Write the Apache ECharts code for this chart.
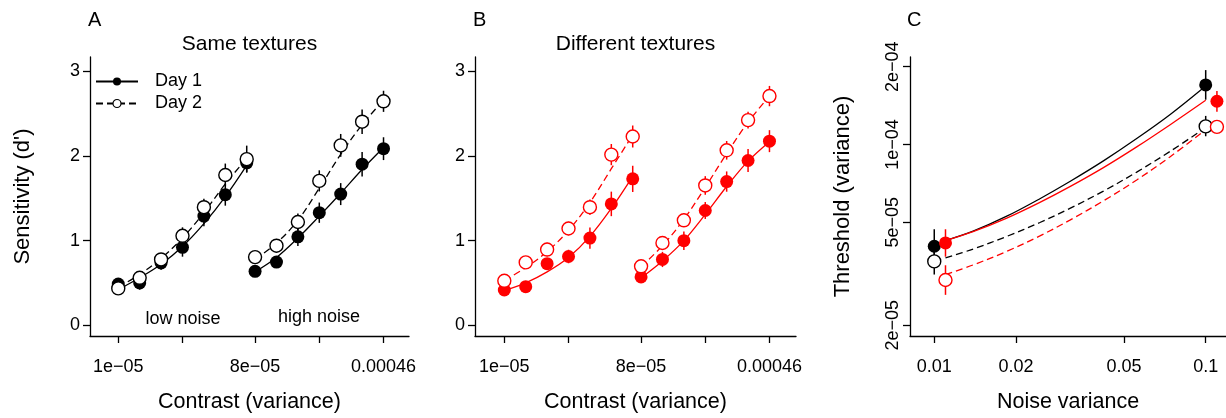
<!DOCTYPE html>
<html>
<head>
<meta charset="utf-8">
<style>
    html, body { margin: 0; padding: 0; background: #fff; }
    #main { width: 1226px; height: 418px; }
</style>
<script src="https://cdn.jsdelivr.net/npm/echarts@6/dist/echarts.min.js"></script>
</head>
<body>
<div id="main"></div>
<script>
// contrast levels as positions on the axis (low noise group, then high noise group)
let lowLevels = [0, 1, 2, 3, 4, 5, 6]
let highLevels = [6.39, 7.39, 8.39, 9.39, 10.39, 11.39, 12.39]
let contrastTicks = [0, 3, 6.39, 9.39, 12.39]
let contrastLabels = ['1e\u221205', '', '8e\u221205', '', '0.00046']
let dTicks = [0, 1, 2, 3]

// A: same textures, d' and error (half length)
let sameDay1Low = [0.486, 0.50, 0.735, 0.92, 1.29, 1.543, 1.92]
let sameDay1LowErr = [0.06, 0.08, 0.08, 0.11, 0.12, 0.13, 0.11]
let sameDay2Low = [0.435, 0.56, 0.777, 1.057, 1.395, 1.776, 1.963]
let sameDay2LowErr = [0.05, 0.06, 0.07, 0.1, 0.1, 0.135, 0.16]
let sameDay1High = [0.637, 0.746, 1.045, 1.33, 1.55, 1.904, 2.087]
let sameDay1HighErr = [0.06, 0.06, 0.11, 0.12, 0.13, 0.145, 0.135]
let sameDay2High = [0.805, 0.94, 1.22, 1.706, 2.126, 2.406, 2.647]
let sameDay2HighErr = [0.05, 0.08, 0.1, 0.125, 0.135, 0.145, 0.125]
let sameFit1Low = [0.42, 0.56, 0.72, 0.93, 1.2, 1.52, 1.89]
let sameFit2Low = [0.45, 0.6, 0.79, 1.03, 1.33, 1.67, 1.97]
let sameFit1High = [0.63, 0.8, 1.03, 1.29, 1.56, 1.84, 2.1]
let sameFit2High = [0.78, 0.97, 1.24, 1.62, 2.02, 2.37, 2.66]

// B: different textures
let diffDay1Low = [0.416, 0.455, 0.727, 0.812, 1.03, 1.434, 1.73]
let diffDay1LowErr = [0.06, 0.06, 0.06, 0.08, 0.125, 0.145, 0.155]
let diffDay2Low = [0.525, 0.742, 0.894, 1.143, 1.395, 2.017, 2.231]
let diffDay2LowErr = [0.05, 0.06, 0.08, 0.08, 0.09, 0.125, 0.13]
let diffDay1High = [0.571, 0.777, 0.999, 1.356, 1.698, 1.947, 2.176]
let diffDay1HighErr = [0.06, 0.09, 0.11, 0.1, 0.12, 0.135, 0.13]
let diffDay2High = [0.696, 0.972, 1.24, 1.652, 2.068, 2.425, 2.709]
let diffDay2HighErr = [0.06, 0.06, 0.08, 0.11, 0.11, 0.1, 0.12]
let diffFit1Low = [0.41, 0.5, 0.63, 0.8, 1.05, 1.38, 1.76]
let diffFit2Low = [0.53, 0.68, 0.87, 1.12, 1.45, 1.85, 2.25]
let diffFit1High = [0.56, 0.76, 1.0, 1.31, 1.64, 1.94, 2.17]
let diffFit2High = [0.69, 0.94, 1.25, 1.63, 2.03, 2.4, 2.71]

// C: thresholds vs noise variance
let noiseBlack = [0.01, 0.1]
let noiseRed = [0.011, 0.11]
let noiseTicks = [0.01, 0.02, 0.05, 0.1]
let thrTicks = [2e-5, 5e-5, 1e-4, 2e-4]
let thrLabels = ['2e\u221205', '5e\u221205', '1e\u221204', '2e\u221204']
let thrSame1 = [4.04e-5, 1.70e-4]
let thrSame1Lo = [3.47e-5, 1.49e-4]
let thrSame1Hi = [4.7e-5, 1.94e-4]
let thrSame2 = [3.53e-5, 1.175e-4]
let thrSame2Lo = [3.14e-5, 1.076e-4]
let thrSame2Hi = [3.84e-5, 1.29e-4]
let thrDiff1 = [4.16e-5, 1.47e-4]
let thrDiff1Lo = [3.68e-5, 1.34e-4]
let thrDiff1Hi = [4.7e-5, 1.61e-4]
let thrDiff2 = [2.99e-5, 1.17e-4]
let thrDiff2Lo = [2.62e-5, 1.12e-4]
let thrDiff2Hi = [3.41e-5, 1.22e-4]
let fitNoise = [0.011, 0.0139, 0.0185, 0.0245, 0.0316, 0.042, 0.0557, 0.074, 0.1]
let fitSame1 = [4.25e-5, 4.62e-5, 5.28e-5, 6.17e-5, 7.19e-5, 8.64e-5, 1.054e-4, 1.306e-4, 1.683e-4]
let fitSame2 = [3.64e-5, 3.94e-5, 4.41e-5, 4.99e-5, 5.66e-5, 6.6e-5, 7.82e-5, 9.41e-5, 1.162e-4]
let fitDiff1 = [4.25e-5, 4.6e-5, 5.19e-5, 5.97e-5, 6.87e-5, 8.14e-5, 9.79e-5, 1.193e-4, 1.483e-4]
let fitDiff2 = [3.14e-5, 3.42e-5, 3.86e-5, 4.43e-5, 5.1e-5, 6.05e-5, 7.29e-5, 8.97e-5, 1.141e-4]

const RED = '#ff0000'
const BLACK = '#000000'
const FONT = '"Liberation Sans", Arial, Helvetica, sans-serif'

function pairs(xs, ys) {
    return xs.map((x, i) => [x, ys[i]])
}
function bars(xs, ys, es) {
    return xs.map((x, i) => [x, ys[i] - es[i], ys[i] + es[i]])
}
function barsLoHi(xs, lo, hi) {
    return xs.map((x, i) => [x, lo[i], hi[i]])
}

function curve(gi, name, xs, ys, color, dashed) {
    return {
        type: 'line',
        name: name,
        xAxisIndex: gi,
        yAxisIndex: gi,
        data: pairs(xs, ys),
        smooth: 0.35,
        symbol: 'circle',
        showSymbol: false,
        lineStyle: { color: color, width: 1.3, type: dashed ? [7, 4] : 'solid' },
        itemStyle: { color: dashed ? '#fff' : color, borderColor: color },
        z: 3,
        silent: true,
    }
}
function dots(gi, xs, ys, color, open) {
    return {
        type: 'scatter',
        xAxisIndex: gi,
        yAxisIndex: gi,
        data: pairs(xs, ys),
        symbol: 'circle',
        symbolSize: 13,
        itemStyle: open
            ? { color: '#fff', borderColor: color, borderWidth: 1.4, opacity: 1 }
            : { color: color, opacity: 1 },
        z: 5,
        silent: true,
    }
}
function errs(gi, data, color) {
    return {
        type: 'custom',
        xAxisIndex: gi,
        yAxisIndex: gi,
        data: data,
        encode: { x: 0, y: [1, 2] },
        renderItem: function (params, api) {
            let p1 = api.coord([api.value(0), api.value(1)])
            let p2 = api.coord([api.value(0), api.value(2)])
            return {
                type: 'line',
                shape: { x1: p1[0], y1: p1[1], x2: p2[0], y2: p2[1] },
                style: { stroke: color, lineWidth: 1.5 },
            }
        },
        z: 2,
        silent: true,
    }
}

let axisLine = { onZero: false, lineStyle: { color: BLACK, width: 1.3 } }
let tickStyle = { color: BLACK, width: 1.3 }

function contrastAxis(gi, min, max) {
    let labelVals = contrastTicks.filter((v, i) => contrastLabels[i] !== '')
    return {
        type: 'value',
        gridIndex: gi,
        min: min,
        max: max,
        name: 'Contrast (variance)',
        nameLocation: 'middle',
        nameGap: 55,
        nameTextStyle: { fontSize: 21.5, color: BLACK },
        axisLine: axisLine,
        axisTick: { customValues: contrastTicks, length: 7, lineStyle: tickStyle },
        axisLabel: {
            customValues: labelVals,
            margin: 22,
            fontSize: 18,
            color: BLACK,
            formatter: function (v) {
                let best = 0
                contrastTicks.forEach((t, i) => {
                    if (Math.abs(t - v) < Math.abs(contrastTicks[best] - v)) best = i
                })
                return contrastLabels[best]
            },
        },
        splitLine: { show: false },
    }
}
function dAxis(gi, name) {
    return {
        type: 'value',
        gridIndex: gi,
        min: -0.128,
        max: 3.171,
        name: name,
        nameLocation: 'middle',
        nameGap: 56,
        nameTextStyle: { fontSize: 22, color: BLACK },
        axisLine: axisLine,
        axisTick: { customValues: dTicks, length: 7, lineStyle: tickStyle },
        axisLabel: { customValues: dTicks, margin: 10, fontSize: 18, color: BLACK },
        splitLine: { show: false },
    }
}

function textAt(x, y, text, size, align) {
    return {
        type: 'text',
        x: x,
        y: y,
        style: {
            text: text,
            fontSize: size,
            fontFamily: FONT,
            fill: BLACK,
            align: align || 'center',
            verticalAlign: 'middle',
        },
    }
}

var chartDom = document.getElementById('main')
var myChart = echarts.init(chartDom)
var option

option = {
    animation: false,
    backgroundColor: '#fff',
    textStyle: { fontFamily: FONT },
    grid: [
        { left: 90, top: 57, width: 319, height: 283 },
        { left: 475, top: 57, width: 321, height: 283 },
        { left: 910, top: 57, width: 318, height: 283 },
    ],
    xAxis: [
        contrastAxis(0, -1.32, 13.58),
        contrastAxis(1, -1.37, 13.63),
        {
            type: 'log',
            gridIndex: 2,
            min: 0.00814,
            max: 0.1188,
            name: 'Noise variance',
            nameLocation: 'middle',
            nameGap: 55,
            nameTextStyle: { fontSize: 21.5, color: BLACK },
            axisLine: axisLine,
            axisTick: { customValues: noiseTicks, length: 7, lineStyle: tickStyle },
            axisLabel: { customValues: noiseTicks, margin: 22, fontSize: 18, color: BLACK, formatter: v => String(+v.toPrecision(3)) },
            splitLine: { show: false },
        },
    ],
    yAxis: [
        dAxis(0, "Sensitivity (d')"),
        dAxis(1, ''),
        {
            type: 'log',
            gridIndex: 2,
            min: 1.816e-5,
            max: 2.18e-4,
            name: 'Threshold (variance)',
            nameLocation: 'middle',
            nameGap: 56,
            nameTextStyle: { fontSize: 22, color: BLACK },
            axisLine: axisLine,
            axisTick: { customValues: thrTicks, length: 7, lineStyle: tickStyle },
            axisLabel: {
                customValues: thrTicks,
                rotate: 90,
                margin: 8,
                fontSize: 18,
                color: BLACK,
                formatter: function (v) {
                    let best = 0
                    thrTicks.forEach((t, i) => {
                        if (Math.abs(Math.log(t / v)) < Math.abs(Math.log(thrTicks[best] / v))) best = i
                    })
                    return thrLabels[best]
                },
            },
            splitLine: { show: false },
        },
    ],
    legend: {
        left: 95,
        top: 70.5,
        orient: 'vertical',
        padding: 0,
        itemGap: 0,
        itemWidth: 42,
        itemHeight: 10,
        selectedMode: false,
        data: [
            { name: 'Day 1', itemStyle: { color: BLACK, borderWidth: 0 } },
            { name: 'Day 2', itemStyle: { color: '#fff', borderColor: BLACK, borderWidth: 1.2 } },
        ],
        textStyle: { fontSize: 18, color: BLACK, lineHeight: 22, padding: [0, 0, 0, 12] },
    },
    graphic: [
        textAt(88, 20, 'A', 20, 'left'),
        textAt(473, 20, 'B', 20, 'left'),
        textAt(907, 20, 'C', 20, 'left'),
        textAt(249.5, 44, 'Same textures', 21),
        textAt(635.5, 44, 'Different textures', 21),
        textAt(183, 319, 'low noise', 18),
        textAt(319, 317, 'high noise', 18),
    ],
    series: [
        // A
        errs(0, bars(lowLevels, sameDay1Low, sameDay1LowErr), BLACK),
        errs(0, bars(lowLevels, sameDay2Low, sameDay2LowErr), BLACK),
        errs(0, bars(highLevels, sameDay1High, sameDay1HighErr), BLACK),
        errs(0, bars(highLevels, sameDay2High, sameDay2HighErr), BLACK),
        curve(0, 'Day 1', lowLevels, sameFit1Low, BLACK, false),
        curve(0, 'Day 2', lowLevels, sameFit2Low, BLACK, true),
        curve(0, 'a1h', highLevels, sameFit1High, BLACK, false),
        curve(0, 'a2h', highLevels, sameFit2High, BLACK, true),
        dots(0, lowLevels, sameDay1Low, BLACK, false),
        dots(0, lowLevels, sameDay2Low, BLACK, true),
        dots(0, highLevels, sameDay1High, BLACK, false),
        dots(0, highLevels, sameDay2High, BLACK, true),
        // B
        errs(1, bars(lowLevels, diffDay1Low, diffDay1LowErr), RED),
        errs(1, bars(lowLevels, diffDay2Low, diffDay2LowErr), RED),
        errs(1, bars(highLevels, diffDay1High, diffDay1HighErr), RED),
        errs(1, bars(highLevels, diffDay2High, diffDay2HighErr), RED),
        curve(1, 'b1l', lowLevels, diffFit1Low, RED, false),
        curve(1, 'b2l', lowLevels, diffFit2Low, RED, true),
        curve(1, 'b1h', highLevels, diffFit1High, RED, false),
        curve(1, 'b2h', highLevels, diffFit2High, RED, true),
        dots(1, lowLevels, diffDay1Low, RED, false),
        dots(1, lowLevels, diffDay2Low, RED, true),
        dots(1, highLevels, diffDay1High, RED, false),
        dots(1, highLevels, diffDay2High, RED, true),
        // C
        errs(2, barsLoHi(noiseBlack, thrSame1Lo, thrSame1Hi), BLACK),
        errs(2, barsLoHi(noiseBlack, thrSame2Lo, thrSame2Hi), BLACK),
        errs(2, barsLoHi(noiseRed, thrDiff1Lo, thrDiff1Hi), RED),
        errs(2, barsLoHi(noiseRed, thrDiff2Lo, thrDiff2Hi), RED),
        curve(2, 'c1s', fitNoise, fitSame1, BLACK, false),
        curve(2, 'c2s', fitNoise, fitSame2, BLACK, true),
        curve(2, 'c1d', fitNoise, fitDiff1, RED, false),
        curve(2, 'c2d', fitNoise, fitDiff2, RED, true),
        dots(2, noiseBlack, thrSame1, BLACK, false),
        dots(2, noiseBlack, thrSame2, BLACK, true),
        dots(2, noiseRed, thrDiff1, RED, false),
        dots(2, noiseRed, thrDiff2, RED, true),
    ],
}

option && myChart.setOption(option)
</script>
</body>
</html>
